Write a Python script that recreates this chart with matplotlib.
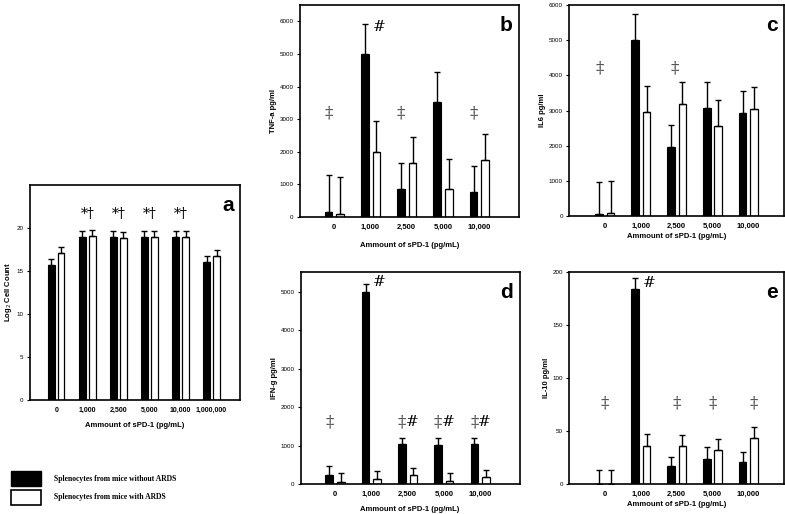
import numpy as np
import matplotlib
matplotlib.use('Agg')
import matplotlib.pyplot as plt
from matplotlib.patches import Patch

plt.rcParams['font.family'] = ['Liberation Sans', 'DejaVu Sans']

# panel a: log2 cell count
doses_a = ['0', '1,000', '2,500', '5,000', '10,000', '1,000,000']
cells_no = [15.7, 19.0, 18.9, 18.9, 19.0, 16.0]
cells_no_err = [0.7, 0.7, 0.7, 0.7, 0.7, 0.7]
cells_ards = [17.1, 19.1, 18.8, 19.0, 19.0, 16.7]
cells_ards_err = [0.7, 0.7, 0.7, 0.7, 0.7, 0.7]

doses = ['0', '1,000', '2,500', '5,000', '10,000']

# panel b: TNF-a
tnf_no = [150, 5000, 850, 3530, 750]
tnf_no_err = [1150, 930, 810, 930, 800]
tnf_ards = [100, 2000, 1660, 850, 1750]
tnf_ards_err = [1140, 930, 800, 940, 800]

# panel c: IL6
il6_no = [50, 5000, 1960, 3080, 2920]
il6_no_err = [910, 740, 640, 730, 640]
il6_ards = [80, 2970, 3180, 2560, 3040]
il6_ards_err = [900, 740, 640, 730, 640]

# panel d: IFN-g
ifn_no = [230, 5000, 1040, 1020, 1050]
ifn_no_err = [240, 200, 170, 190, 160]
ifn_ards = [50, 140, 230, 80, 190]
ifn_ards_err = [230, 200, 180, 200, 180]

# panel e: IL-10
il10_no = [0, 184, 17, 24, 21]
il10_no_err = [13, 11, 9, 11, 9]
il10_ards = [0, 36, 36, 32, 44]
il10_ards_err = [13, 11, 10, 11, 10]

fig = plt.figure(figsize=(7.85, 5.14), dpi=100)

off = 0.16
w = 0.21


def panel(rect, labels, black, black_err, white, white_err, ylim, yticks,
          ylabel, letter, xlim, xlabelpad=4):
    ax = fig.add_axes(rect)
    x = np.arange(len(labels))
    z = np.zeros(len(labels))
    ax.bar(x - off, black, w, color='black', edgecolor='black', lw=0.8,
           yerr=[z, black_err], error_kw=dict(ecolor='black', elinewidth=1.0,
                                               capsize=2.5, capthick=1.0))
    ax.bar(x + off, white, w, color='white', edgecolor='black', lw=0.9,
           yerr=[z, white_err], error_kw=dict(ecolor='black', elinewidth=1.0,
                                               capsize=2.5, capthick=1.0))
    ax.set_xlim(*xlim)
    ax.set_ylim(*ylim)
    ax.set_yticks(yticks)
    ax.set_xticks(x)
    ax.set_xticklabels(labels, fontsize=5.5, fontweight='bold')
    ax.tick_params(axis='y', labelsize=4.5, length=2.5, width=0.8, pad=2)
    ax.tick_params(axis='x', length=0, pad=5)
    ax.set_xlabel('Ammount of sPD-1 (pg/mL)', fontsize=5.5,
                  fontweight='bold', labelpad=xlabelpad)
    ax.set_ylabel(ylabel, fontsize=5.5, fontweight='bold', labelpad=2)
    for s in ax.spines.values():
        s.set_linewidth(1.2)
    ax.text(0.97, 0.95, letter, transform=ax.transAxes, ha='right', va='top',
            fontsize=15, fontweight='bold')
    return ax


ax_a = panel([0.038, 0.222, 0.268, 0.418], doses_a, cells_no, cells_no_err,
             cells_ards, cells_ards_err, (0, 25), [0, 5, 10, 15, 20],
             'Log$_2$ Cell Count', 'a', (-0.85, 5.92), xlabelpad=6)
ax_b = panel([0.382, 0.578, 0.279, 0.412], doses, tnf_no, tnf_no_err,
             tnf_ards, tnf_ards_err, (0, 6500), range(0, 7000, 1000),
             'TNF-a pg/ml', 'b', (-0.95, 5.09), xlabelpad=8)
ax_c = panel([0.725, 0.580, 0.274, 0.410], doses, il6_no, il6_no_err,
             il6_ards, il6_ards_err, (0, 6000), range(0, 7000, 1000),
             'IL6 pg/ml', 'c', (-1.0, 5.0), xlabelpad=2)
ax_d = panel([0.383, 0.058, 0.279, 0.412], doses, ifn_no, ifn_no_err,
             ifn_ards, ifn_ards_err, (0, 5500), range(0, 6000, 1000),
             'IFN-g pg/ml', 'd', (-0.95, 5.09), xlabelpad=6)
ax_e = panel([0.725, 0.058, 0.274, 0.412], doses, il10_no, il10_no_err,
             il10_ards, il10_ards_err, (0, 200), [0, 50, 100, 150, 200],
             'IL-10 pg/ml', 'e', (-1.0, 5.0), xlabelpad=2)
ax_a.tick_params(axis='x', labelsize=5)

# significance marks
for i in [1, 2, 3, 4]:
    ax_a.text(i, 21.6, '*\u2020', ha='center', va='center', fontsize=10,
              family='DejaVu Serif')

dd = dict(ha='center', va='center', fontsize=12, color='#555555',
          family='DejaVu Serif')
hs = dict(ha='left', va='center', fontsize=11, family='DejaVu Serif')
for i in [0, 2, 4]:
    ax_b.text(i - off, 3200, '\u2021', **dd)
ax_b.text(1 + 0.05, 5820, '#', **hs)

ax_c.text(0 - off, 4200, '\u2021', **dd)
ax_c.text(2 - 0.05, 4200, '\u2021', **dd)

ax_d.text(0 - off, 1620, '\u2021', **dd)
ax_d.text(1 + 0.05, 5260, '#', **hs)
for i in [2, 3, 4]:
    ax_d.text(i - off, 1620, '\u2021', **dd)
    ax_d.text(i - 0.05, 1620, '#', **hs)

for i, dx in zip([0, 2, 3, 4], [0, 0, 0, off]):
    ax_e.text(i + dx, 77, '\u2021', **dd)
ax_e.text(1 + 0.05, 190, '#', **hs)

handles = [Patch(facecolor='black', edgecolor='black'),
           Patch(facecolor='white', edgecolor='black', lw=1.2)]
fig.legend(handles, ['Splenocytes from mice without ARDS',
                     'Splenocytes from mice with ARDS'],
           loc='lower left', bbox_to_anchor=(0.005, 0.005), frameon=False,
           handlelength=3.9, handleheight=2.6, handletextpad=1.8,
           labelspacing=0.5,
           prop=dict(family='Liberation Serif', weight='bold', size=5.5))

fig.savefig('out.png', dpi=100)
